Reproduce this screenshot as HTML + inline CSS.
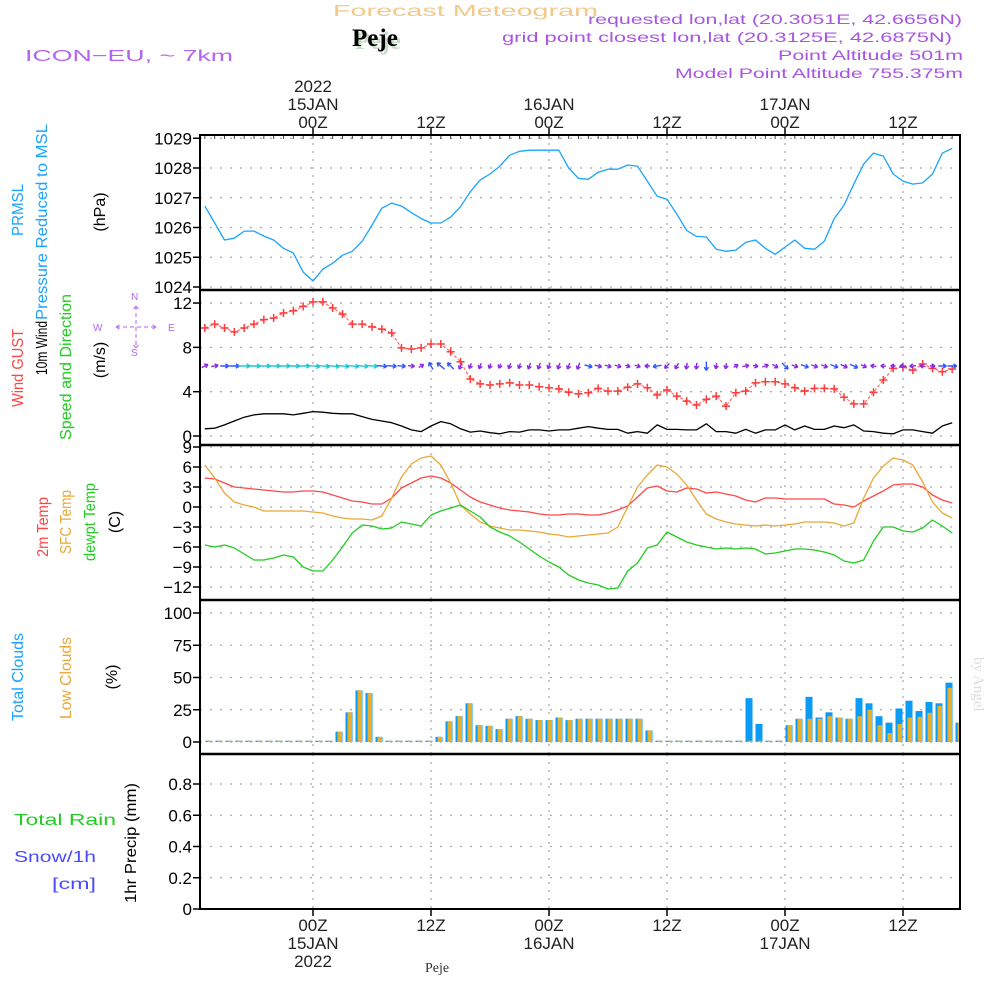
<!DOCTYPE html>
<html><head><meta charset="utf-8"><style>
html,body{margin:0;padding:0;background:#fff;width:1000px;height:1000px;overflow:hidden}
svg text{font-family:"Liberation Sans",sans-serif}
</style></head><body>
<svg id="chart" width="1000" height="1000" viewBox="0 0 1000 1000" xmlns="http://www.w3.org/2000/svg">
<g id="hdr">
<text x="333" y="16" font-size="16" fill="#f2c98a" textLength="265" lengthAdjust="spacingAndGlyphs">Forecast Meteogram</text>
<text x="355" y="49" font-size="25" font-weight="bold" fill="#c8dcc8" style="font-family:'Liberation Serif',serif">Peje</text>
<text x="352" y="46" font-size="25" font-weight="bold" fill="#000" style="font-family:'Liberation Serif',serif">Peje</text>
<text x="25" y="61" font-size="16" fill="#b266ee" textLength="208" lengthAdjust="spacingAndGlyphs">ICON−EU,  ~  7km</text>
<text x="588" y="24" font-size="14" fill="#a855e0" textLength="374" lengthAdjust="spacingAndGlyphs">requested lon,lat (20.3051E, 42.6656N)</text>
<text x="502" y="42" font-size="14" fill="#a855e0" textLength="450" lengthAdjust="spacingAndGlyphs">grid point closest lon,lat (20.3125E, 42.6875N)</text>
<text x="778" y="60" font-size="14" fill="#a855e0" textLength="185" lengthAdjust="spacingAndGlyphs">Point Altitude 501m</text>
<text x="675" y="78" font-size="14" fill="#a855e0" textLength="288" lengthAdjust="spacingAndGlyphs">Model Point Altitude 755.375m</text>
<text transform="translate(974,657) rotate(90)" font-size="15" fill="#ddd" style="font-family:'Liberation Serif',serif">by Angel</text>
<text x="425" y="972" font-size="14" fill="#333" style="font-family:'Liberation Serif',serif">Peje</text>
</g>
<g id="labels" font-size="16">
<text transform="translate(23,210) rotate(-90)" text-anchor="middle" fill="#1aa3ff" textLength="52" lengthAdjust="spacingAndGlyphs">PRMSL</text>
<text transform="translate(47,222) rotate(-90)" text-anchor="middle" fill="#1aa3ff" textLength="196" lengthAdjust="spacingAndGlyphs">Pressure Reduced to MSL</text>
<text transform="translate(105,212) rotate(-90)" text-anchor="middle" fill="#000">(hPa)</text>
<text transform="translate(23,368) rotate(-90)" text-anchor="middle" fill="#ff4444" textLength="78" lengthAdjust="spacingAndGlyphs">Wind GUST</text>
<text transform="translate(47,348) rotate(-90)" text-anchor="middle" fill="#000" textLength="54" lengthAdjust="spacingAndGlyphs">10m Wind</text>
<text transform="translate(71,367) rotate(-90)" text-anchor="middle" fill="#22cc22" textLength="146" lengthAdjust="spacingAndGlyphs">Speed and Direction</text>
<text transform="translate(105,360) rotate(-90)" text-anchor="middle" fill="#000">(m/s)</text>
<text transform="translate(48,527) rotate(-90)" text-anchor="middle" fill="#ff4444" textLength="60" lengthAdjust="spacingAndGlyphs">2m Temp</text>
<text transform="translate(71,522) rotate(-90)" text-anchor="middle" fill="#e8a838" textLength="64" lengthAdjust="spacingAndGlyphs">SFC Temp</text>
<text transform="translate(95,522) rotate(-90)" text-anchor="middle" fill="#22cc22" textLength="78" lengthAdjust="spacingAndGlyphs">dewpt Temp</text>
<text transform="translate(120,522) rotate(-90)" text-anchor="middle" fill="#000">(C)</text>
<text transform="translate(23,677) rotate(-90)" text-anchor="middle" fill="#1aa3ff" textLength="88" lengthAdjust="spacingAndGlyphs">Total Clouds</text>
<text transform="translate(71,678) rotate(-90)" text-anchor="middle" fill="#e8a838" textLength="82" lengthAdjust="spacingAndGlyphs">Low Clouds</text>
<text transform="translate(117,677) rotate(-90)" text-anchor="middle" fill="#000">(%)</text>
<text transform="translate(136,843) rotate(-90)" text-anchor="middle" fill="#000" textLength="120" lengthAdjust="spacingAndGlyphs">1hr Precip (mm)</text>
<text x="14" y="825" fill="#22cc22" textLength="102" lengthAdjust="spacingAndGlyphs">Total   Rain</text>
<text x="14" y="862" fill="#4a4aff" textLength="82" lengthAdjust="spacingAndGlyphs">Snow/1h</text>
<text x="52" y="889" fill="#4a4aff" textLength="44" lengthAdjust="spacingAndGlyphs">[cm]</text>
</g>
<g fill="#b266ee" font-size="10" stroke="#b266ee" stroke-width="1">
<text x="131" y="300" stroke="none">N</text>
<text x="131" y="356" stroke="none">S</text>
<text x="93" y="331" stroke="none">W</text>
<text x="168" y="331" stroke="none">E</text>
<path d="M136 306v42M116 327h40M116 327l5-3M116 327l5 3M156 327l-5-3M156 327l-5 3M136 306l-3 4M136 306l3 4M136 348l-3-4M136 348l3-4" fill="none" stroke-dasharray="4,3"/>
</g>
<g id="plots"></g>
</svg>
<script>
// ---- data (hours relative to 00Z 15JAN, hourly from -11) ----
const hours0 = -11;
const pressure = [1026.72,1026.15,1025.58,1025.64,1025.88,1025.88,1025.71,1025.58,1025.3,1025.14,1024.5,1024.2,1024.6,1024.8,1025.07,1025.2,1025.54,1026.08,1026.65,1026.82,1026.72,1026.5,1026.3,1026.15,1026.15,1026.35,1026.7,1027.2,1027.6,1027.8,1028.06,1028.43,1028.56,1028.6,1028.6,1028.6,1028.6,1028.0,1027.65,1027.62,1027.86,1027.96,1027.96,1028.1,1028.06,1027.56,1027.05,1026.95,1026.45,1025.9,1025.7,1025.68,1025.27,1025.2,1025.24,1025.5,1025.58,1025.3,1025.1,1025.34,1025.58,1025.3,1025.27,1025.54,1026.3,1026.75,1027.46,1028.13,1028.5,1028.4,1027.8,1027.56,1027.46,1027.5,1027.8,1028.5,1028.66];
const gust = [9.75,10.1,9.75,9.4,9.75,10.1,10.5,10.65,11.1,11.3,11.7,12.1,12.1,11.55,11.0,10.1,10.1,9.85,9.65,9.3,7.95,7.85,7.95,8.3,8.3,7.6,6.7,5.15,4.7,4.6,4.7,4.8,4.6,4.6,4.45,4.35,4.25,3.95,3.8,3.9,4.3,4.05,4.05,4.4,4.7,4.35,3.7,4.15,3.6,3.15,2.8,3.3,3.6,2.7,3.9,4.05,4.8,4.9,4.9,4.7,4.35,4.05,4.3,4.3,4.25,3.5,2.9,2.9,3.95,5.05,6.1,6.2,5.95,6.5,6.1,5.8,6.05];
const wind10m = [0.65,0.7,1.0,1.35,1.7,1.9,2.0,2.0,2.0,1.9,2.05,2.2,2.15,2.05,2.0,2.0,1.75,1.5,1.35,1.2,0.9,0.55,0.4,0.9,1.3,1.1,0.65,0.35,0.45,0.3,0.2,0.4,0.35,0.55,0.55,0.45,0.55,0.55,0.7,0.85,0.7,0.6,0.6,0.25,0.4,0.25,1.0,0.6,0.6,0.55,0.55,1.1,0.4,0.4,0.25,0.6,0.25,0.55,0.55,1.0,0.55,0.9,0.6,0.6,0.9,0.75,1.0,0.45,0.4,0.25,0.2,0.55,0.55,0.4,0.25,0.9,1.2];
const windDir = [-25,-10,0,0,0,0,0,0,0,0,0,5,5,5,5,5,5,5,5,5,5,5,-30,-120,-140,-135,110,110,110,110,110,110,110,110,110,110,110,110,110,15,15,15,15,15,15,180,170,135,120,100,95,90,100,100,-30,-10,10,-20,30,45,20,20,20,20,20,25,25,25,190,185,180,180,175,190,0,0,0];
const temp2m = [4.35,4.2,3.6,3.0,2.85,2.7,2.55,2.4,2.25,2.25,2.4,2.4,2.25,1.8,1.35,0.9,0.75,0.45,0.45,1.35,2.85,3.6,4.35,4.65,4.35,3.6,2.55,1.5,0.75,0.3,-0.15,-0.45,-0.6,-0.75,-1.05,-1.2,-1.2,-1.05,-1.05,-1.2,-1.2,-0.9,-0.45,0.15,1.5,2.85,3.15,2.4,2.25,2.85,2.7,2.1,2.25,1.95,1.65,1.05,0.75,1.35,1.35,1.2,1.2,1.2,1.2,1.2,0.45,0.3,0.0,0.9,1.65,2.4,3.3,3.45,3.45,3.0,1.8,1.05,0.6];
const tempSfc = [6.3,4.35,2.1,0.75,0.3,0.0,-0.6,-0.6,-0.6,-0.6,-0.6,-0.75,-0.9,-1.35,-1.65,-1.8,-1.8,-1.95,-1.35,1.35,4.5,6.45,7.35,7.65,6.3,3.6,0.3,-1.05,-2.25,-2.85,-3.15,-3.45,-3.45,-3.6,-3.75,-4.05,-4.2,-4.5,-4.35,-4.2,-4.05,-3.9,-3.0,0.0,3.0,4.8,6.3,6.0,4.95,3.3,1.05,-1.05,-1.8,-2.25,-2.55,-2.7,-2.85,-2.7,-2.85,-2.7,-2.55,-2.25,-2.25,-2.25,-2.4,-2.85,-2.4,1.35,4.35,6.15,7.35,7.05,6.3,3.75,0.75,-0.9,-1.65];
const dewpt = [-5.7,-6.0,-5.7,-6.15,-7.05,-7.95,-7.95,-7.65,-7.2,-7.5,-9.0,-9.6,-9.6,-7.95,-6.0,-3.9,-2.7,-2.85,-3.3,-3.15,-2.25,-2.55,-2.85,-1.2,-0.6,-0.15,0.3,-0.6,-1.5,-3.0,-3.75,-4.35,-5.25,-6.3,-7.35,-8.25,-9.0,-10.2,-10.95,-11.4,-11.7,-12.3,-12.15,-9.6,-8.4,-6.15,-5.7,-3.75,-4.5,-5.25,-5.7,-6.0,-6.3,-6.15,-6.3,-6.15,-6.3,-7.05,-6.9,-6.6,-6.3,-6.3,-6.45,-6.75,-7.2,-8.1,-8.4,-7.95,-5.1,-3.0,-3.0,-3.6,-3.75,-3.15,-1.95,-2.85,-3.9];
const cloudTotal = [0,0,0,0,0,0,0,0,0,0,0,0,0,8,23,40,38,4,0,0,0,0,0,4,16,20,30,13,12.5,10,18,20,18,17,17,19,17,18,18,18,18,18,18,18,9,0,0,0,0,0,0,0,0,0,34,14,0,0,13,18,35,19,23,19,18,34,30,20,15,26,32,24,31,30,46,15];
const cloudLow = [0,0,0,0,0,0,0,0,0,0,0,0,0,8,23,40,38,4,0,0,0,0,0,4,16,20,30,13,12.5,10,18,20,18,17,17,19,17,18,18,18,18,18,18,18,9,0,0,0,0,0,0,0,0,0,0,0,0,0,13,18,18,18,20,19,18,20,25,13,7,14,19,19.5,22.6,28,42,15];
const precip = new Array(77).fill(0);
const pTicks = [1024,1025,1026,1027,1028,1029];
const wTicks = [0,4,8,12];
const tTicks = [-12,-9,-6,-3,0,3,6,9];
const cTicks = [0,25,50,75,100];
const rTicks = [0,0.2,0.4,0.6,0.8];
const rTickLabels = ["0","0.2","0.4","0.6","0.8"];
const timeTicks = [0,12,24,36,48,60];
const timeLabels = ["00Z","12Z","00Z","12Z","00Z","12Z"];
const dayLabels = ["15JAN","","16JAN","","17JAN",""];

// ---- axes ----
const L=200,R=960;
const xOf = t => 313 + t*118/12;
const xCloud = t => 339 + (t-2)*10;
const yP = v => 287 - (v-1024)*29.75;
const yW = v => 436 - v*11.08;
const yT = v => 507 - v*20/3;
const yC = v => 742 - v*1.29;
const yR = v => 909 - v*156.25;
const NS='http://www.w3.org/2000/svg';
const root=document.getElementById('plots');
function mk(tag,attrs,parent){const e=document.createElementNS(NS,tag);for(const k in attrs)e.setAttribute(k,attrs[k]);(parent||root).appendChild(e);return e;}

const defs=mk('defs',{});
const cp=mk('clipPath',{id:'clip'},defs);
mk('rect',{x:L,y:135,width:R-L,height:775},cp);

const panels=[
 {name:'pressure',top:135,bot:290,ticks:pTicks,labels:pTicks.map(String),y:yP},
 {name:'wind',top:290,bot:445,ticks:wTicks,labels:wTicks.map(String),y:yW},
 {name:'temp',top:445,bot:600,ticks:tTicks,labels:tTicks.map(v=>v<0?'−'+(-v):String(v)),y:yT},
 {name:'clouds',top:600,bot:754,ticks:cTicks,labels:cTicks.map(String),y:yC},
 {name:'precip',top:754,bot:909,ticks:rTicks,labels:rTickLabels,y:yR}
];
panels.forEach(p=>{
  const g=mk('g',{});
  
  
  p.ticks.forEach((v,i)=>{
    const y=p.y(v);
    const gl=mk('line',{x1:L,x2:R,y1:y,y2:y,stroke:'#aaa','stroke-width':1.3,'stroke-dasharray':'2,8'},g);
    
    
    mk('line',{x1:L-7,x2:L,y1:y,y2:y,stroke:'#000','stroke-width':1.5},g);
    const t=mk('text',{x:L-8,y:y+6,'text-anchor':'end','font-size':17,fill:'#000'},g);
    
    
    t.textContent=p.labels[i];
  });
  timeTicks.forEach(tt=>{
    const vl=mk('line',{x1:xOf(tt),x2:xOf(tt),y1:p.top,y2:p.bot,stroke:'#aaa','stroke-width':1.3,'stroke-dasharray':'2,6'},g);
    
    
  });
});

timeTicks.forEach((tt,i)=>{
  const x=xOf(tt);
  mk('line',{x1:x,x2:x,y1:128,y2:136,stroke:'#000','stroke-width':1.5});
  mk('line',{x1:x,x2:x,y1:909,y2:916,stroke:'#000','stroke-width':1.5});
  const a=mk('text',{x:x,y:128,'text-anchor':'middle','font-size':17,fill:'#222'});
  
  
  a.textContent=timeLabels[i];
  const b=mk('text',{x:x,y:931,'text-anchor':'middle','font-size':17,fill:'#222'});
  
  
  b.textContent=timeLabels[i];
  if(dayLabels[i]){
    const c=mk('text',{x:x,y:110,'text-anchor':'middle','font-size':17,fill:'#222'});
    
    
    c.textContent=dayLabels[i];
    const d=mk('text',{x:x,y:949,'text-anchor':'middle','font-size':17,fill:'#222'});
    
    
    d.textContent=dayLabels[i];
  }
});
const y1=mk('text',{x:xOf(0),y:92,'text-anchor':'middle','font-size':17,fill:'#222'});


y1.textContent='2022';
const y2=mk('text',{x:xOf(0),y:967,'text-anchor':'middle','font-size':17,fill:'#222'});


y2.textContent='2022';
for(let t=-11;t<=66;t++){const x=xOf(t);if(x<L||x>R)continue;
  mk('line',{x1:x,x2:x,y1:136,y2:139,stroke:'#444','stroke-width':1});}

const plot=mk('g',{'clip-path':'url(#clip)'});
function line(vals,yf,color,name,w,dash){
  const pts=vals.map((v,i)=>xOf(hours0+i).toFixed(1)+','+yf(v).toFixed(1)).join(' ');
  const e=mk('polyline',{points:pts,fill:'none',stroke:color,'stroke-width':w||1.3,'stroke-linejoin':'round'},plot);
  if(dash)e.setAttribute('stroke-dasharray',dash);
  
  
  return e;
}
line(pressure,yP,'#1aa3ff','pressure-line');
line(wind10m,yW,'#000','wind-speed-line');
line(gust,yW,'#ff5555','gust-line',1,'3,2');
gust.forEach((v,i)=>{
  const x=xOf(hours0+i),y=yW(v);
  const m=mk('path',{d:`M${x-4},${y}h8M${x},${y-4}v8`,stroke:'#ff3b3b','stroke-width':1.5},plot);
  
  
});
wind10m.forEach((s,i)=>{
  const x=xOf(hours0+i),y=366;
  const len=4+s*4.5;
  const a=windDir[i]*Math.PI/180;
  const dx=Math.cos(a)*len/2,dy=Math.sin(a)*len/2;
  const col=s>=1.5?'#22c8d0':(s>=0.8?'#3355ff':'#8a2be2');
  const tx=x+dx,ty=y+dy,bx=x-dx,by=y-dy;
  const h1=a+Math.PI*0.82,h2=a-Math.PI*0.82;
  const d=`M${bx},${by}L${tx},${ty}M${tx},${ty}L${tx+Math.cos(h1)*4},${ty+Math.sin(h1)*4}M${tx},${ty}L${tx+Math.cos(h2)*4},${ty+Math.sin(h2)*4}`;
  const e=mk('path',{d:d,stroke:col,'stroke-width':1.4,fill:'none'},plot);
  
  
});
line(temp2m,yT,'#ff4848','temp-2m-line');
line(tempSfc,yT,'#e8a838','temp-sfc-line');
line(dewpt,yT,'#22cc22','dewpoint-line');
cloudTotal.forEach((v,i)=>{
  const t=hours0+i,x=xCloud(t);
  const h=Math.max(v*1.29,1.3);
  const b=mk('rect',{x:x-3.5,y:yC(0)-h,width:7,height:h,fill:'#0a9bf5'},plot);
  
  
  const lv=cloudLow[i];const lh=Math.max(lv*1.29,1.3);
  const o=mk('rect',{x:x-1.5,y:yC(0)-lh,width:4.5,height:lh,fill:'#e8ae2e'},plot);
  
  
});
line(precip,yR,'#000','precip-line',1.5,'6,3');

const fr=mk('g',{});


mk('rect',{x:L,y:135,width:R-L,height:774,fill:'none',stroke:'#000','stroke-width':2},fr);
[290,445,600,754].forEach(y=>mk('line',{x1:L,x2:R,y1:y,y2:y,stroke:'#000','stroke-width':2.5},fr));
</script>
</body></html>
